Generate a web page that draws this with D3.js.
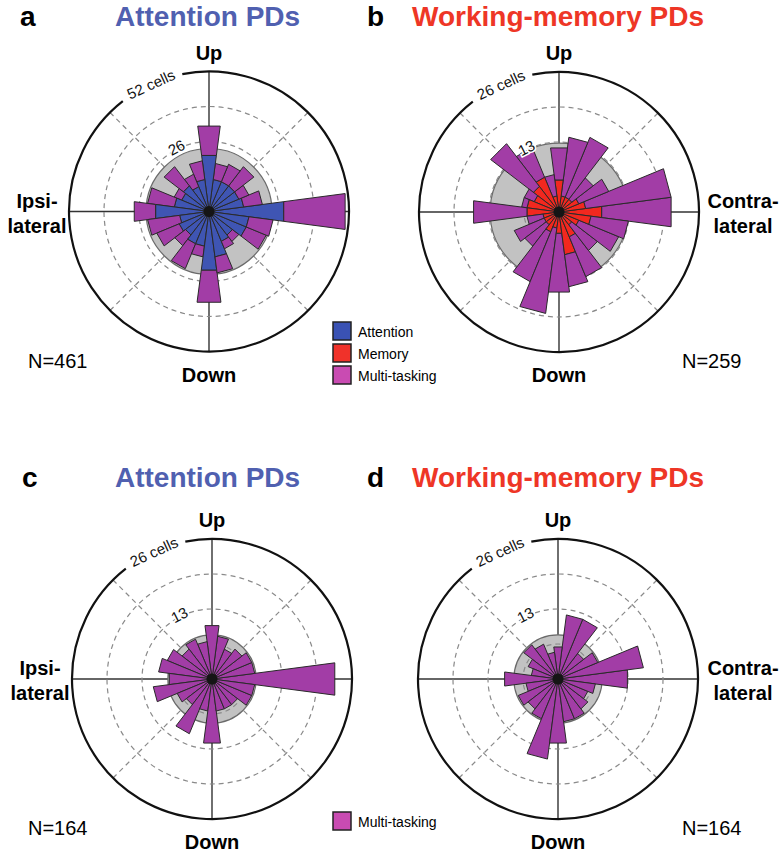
<!DOCTYPE html>
<html><head><meta charset="utf-8">
<script src="https://cdn.jsdelivr.net/npm/d3@7"></script>
<style>
body{margin:0;background:#fff}
svg{display:block}
text{font-family:"Liberation Sans",Arial,Helvetica,sans-serif}
</style>
</head><body>
<svg id="chart" width="784" height="853"></svg>
<script>
// ---------- DATA ----------
// bin centres: degrees counter-clockwise from the right (contralateral) direction, 15° bins
const binAngles = d3.range(0, 360, 15);

// Panel a: Attention PDs (cells per bin)
const attentionA = [28,13,12,12,12,12,21,12,10,12,11,13,20,11,12,11,13,13,22,17,12,11,15,15];
const multiA     = [23, 7, 4, 9, 7, 6,11, 7, 5, 9, 3,10, 8,12, 9, 5,10, 4,12, 6, 3, 3, 8, 9];
// Panel b: Working-memory PDs
const memoryB    = [ 8, 5, 4, 3, 3, 3, 6, 3, 7, 6, 5, 6, 6, 3, 3, 3, 4, 3, 4, 8, 5, 3, 4, 6];
const multiB     = [13,16, 6, 5,12,11, 6, 4, 6,10, 2, 1,10, 3, 6, 5,10,16,11, 6, 8, 6, 8, 7];
// Panel c: Attention PDs, multi-tasking only
const multiC     = [23, 8, 8, 7, 6, 8,10, 7, 8, 7, 9,10, 8,11, 7, 6,11, 6,12, 6, 6, 6, 8, 8];
// Panel d: Working-memory PDs, multi-tasking only
const multiD     = [13,16, 8, 6,12,12, 6, 5, 7, 8, 6, 5,10, 6, 8, 7, 8,15,12, 8, 8, 7, 6, 7];

// grey reference disc radius (cells)
const greyDisc   = [23.4, 12.8, 8.2, 8.2];
const scaleMax   = [52, 26, 26, 26];
const scaleLabels= [["52 cells","26"],["26 cells","13"],["26 cells","13"],["26 cells","13"]];
const panelLetters = ["a","b","c","d"];
const panelTitles  = ["Attention PDs","Working-memory PDs","Attention PDs","Working-memory PDs"];
const nLabels      = ["N=461","N=259","N=164","N=164"];
const sideLabels   = [["Ipsi-","lateral"],["Contra-","lateral"],["Ipsi-","lateral"],["Contra-","lateral"]];
const legendItems  = ["Attention","Memory","Multi-tasking"];

// ---------- STYLE ----------
const COL = {att:"#3f55b3", mem:"#f2281f", multi:"#a23da6", grey:"#c2c2c2",
             titleAtt:"#5060b0", titleMem:"#ee3626"};
const legendColors = {"Attention":"#3a52b4","Memory":"#f0322a","Multi-tasking":"#c94bb2"};
const R = 140;

const panels = [
  {cx:209, cy:211.5, series:[{v:attentionA,c:COL.att},{v:multiA,c:COL.multi}], side:"left",  titleColor:COL.titleAtt, titleY:26},
  {cx:559, cy:212,   series:[{v:memoryB,c:COL.mem},{v:multiB,c:COL.multi}],     side:"right", titleColor:COL.titleMem, titleY:26},
  {cx:212, cy:679,   series:[{v:multiC,c:COL.multi}],                           side:"left",  titleColor:COL.titleAtt, titleY:487},
  {cx:558, cy:679,   series:[{v:multiD,c:COL.multi}],                           side:"right", titleColor:COL.titleMem, titleY:487}
];
const titleX = [[20,115],[367,412],[22,115],[367,412]];

const svg = d3.select("#chart");
const rad = d => d*Math.PI/180;

panels.forEach((p,i)=>{
  const g = svg.append("g").attr("transform",`translate(${p.cx},${p.cy})`);
  const r = d3.scaleLinear().domain([0, scaleMax[i]]).range([0, R]);
  const pt = (rr, deg) => [rr*Math.cos(rad(deg)), -rr*Math.sin(rad(deg))];

  // diagonal dashed lines
  [45,135,225,315].forEach(a=>{
    const e = pt(R, a);
    g.append("line").attr("x1",0).attr("y1",0).attr("x2",e[0]).attr("y2",e[1])
      .attr("stroke","#8a8a8a").attr("stroke-width",1.2).attr("stroke-dasharray","5,4");
  });
  // axes
  g.append("line").attr("x1",-R).attr("x2",R).attr("y1",0).attr("y2",0).attr("stroke","#333").attr("stroke-width",1.4);
  g.append("line").attr("y1",-R).attr("y2",R).attr("x1",0).attr("x2",0).attr("stroke","#333").attr("stroke-width",1.4);

  // grey disc
  g.append("circle").attr("r", r(greyDisc[i])).attr("fill",COL.grey).attr("stroke","#6a6a6a").attr("stroke-width",1.2);

  // dashed circles
  [0.25,0.5,0.75].forEach(f=>{
    g.append("circle").attr("r", r(scaleMax[i]*f)).attr("fill","none")
      .attr("stroke","#8a8a8a").attr("stroke-width",1.2).attr("stroke-dasharray","5,4");
  });

  // stacked bars
  binAngles.forEach((ang,k)=>{
    let base = 0;
    p.series.forEach(s=>{
      const v = s.v[k];
      if (v<=0) return;
      const r0 = r(base), r1 = r(base+v);
      const a0 = ang-7.5, a1 = ang+7.5;
      const pts = [pt(r0,a0), pt(r1,a0), pt(r1,a1), pt(r0,a1)];
      g.append("path").attr("d", d3.line()(pts)+"Z").attr("fill",s.c)
        .attr("stroke","#2a2a2a").attr("stroke-width",1).attr("stroke-linejoin","miter");
      base += v;
    });
  });

  // centre dot
  g.append("circle").attr("r",5.5).attr("fill","#151515");

  // outer circle with gap for label
  const path = d3.path();
  path.arc(0,0,R, rad(-101), rad(232));
  g.append("path").attr("d", path.toString()).attr("fill","none").attr("stroke","#111").attr("stroke-width",2.2);

  // scale labels
  const la = 24.5;
  g.append("text").attr("transform",`translate(${-R*Math.sin(rad(la))},${-R*Math.cos(rad(la))}) rotate(${-la})`)
    .attr("text-anchor","middle").attr("dominant-baseline","central").attr("font-size",15).attr("fill","#111")
    .text(scaleLabels[i][0]);
  const lb = 27, rb = r(scaleMax[i]/2)+2;
  g.append("text").attr("transform",`translate(${-rb*Math.sin(rad(lb))},${-rb*Math.cos(rad(lb))}) rotate(${-lb})`)
    .attr("text-anchor","middle").attr("dominant-baseline","central").attr("font-size",15).attr("fill","#111")
    .attr("stroke","#fff").attr("stroke-width",3).attr("paint-order","stroke")
    .text(scaleLabels[i][1]);

  // Up / Down
  g.append("text").attr("x",0).attr("y",-152).attr("text-anchor","middle").attr("font-size",20).attr("font-weight","bold").text("Up");
  g.append("text").attr("x",0).attr("y",170).attr("text-anchor","middle").attr("font-size",20).attr("font-weight","bold").text("Down");

  // side label
  const sx = p.side==="left" ? 37 - p.cx + (i===2?3:0) : 743 - p.cx;
  g.append("text").attr("x",sx).attr("y",-4).attr("text-anchor","middle").attr("font-size",20).attr("font-weight","bold").text(sideLabels[i][0]);
  g.append("text").attr("x",sx).attr("y",21).attr("text-anchor","middle").attr("font-size",20).attr("font-weight","bold").text(sideLabels[i][1]);

  // N label
  const nx = p.side==="left" ? 28 : 682;
  svg.append("text").attr("x",nx).attr("y",p.cy+156).attr("font-size",20).text(nLabels[i]);

  // titles
  svg.append("text").attr("x",titleX[i][0]).attr("y",p.titleY).attr("font-size",28).attr("font-weight","bold").text(panelLetters[i]);
  svg.append("text").attr("x",titleX[i][1]).attr("y",p.titleY).attr("font-size",28).attr("font-weight","bold")
     .attr("fill",p.titleColor).text(panelTitles[i]);
});

// legends
const leg = svg.append("g").attr("transform","translate(333,322)");
legendItems.forEach((name,k)=>{
  leg.append("rect").attr("x",0).attr("y",k*22).attr("width",18).attr("height",18)
     .attr("fill",legendColors[name]).attr("stroke","#222").attr("stroke-width",1.5);
  leg.append("text").attr("x",25).attr("y",k*22+15).attr("font-size",14).text(name);
});
const leg2 = svg.append("g").attr("transform","translate(333,812)");
leg2.append("rect").attr("width",18).attr("height",18).attr("fill",legendColors["Multi-tasking"]).attr("stroke","#222").attr("stroke-width",1.5);
leg2.append("text").attr("x",25).attr("y",15).attr("font-size",14).text("Multi-tasking");
</script>
</body></html>
